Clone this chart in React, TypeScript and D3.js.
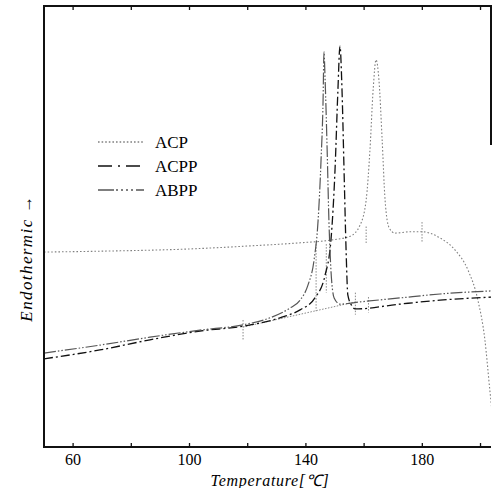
import React, { useEffect, useRef } from 'react';
import * as d3 from 'd3';

// temperature [℃] and endothermic signal (arbitrary units)
const acpTemp = [50, 69.2, 99.8, 120.8, 138, 148.3, 155.2, 158.6, 160.7, 162, 163.1, 164.1, 165.1, 166.2, 167.2, 168.6, 170.6, 175.8, 179.9, 186.1, 191.2, 195.7, 199.1, 201.5, 203.2, 203.9];
const acpHeat = [44.2, 44.4, 44.9, 45.6, 46.3, 46.9, 47.8, 50.3, 56, 67.3, 81, 87.8, 83.2, 69.6, 56, 49.7, 48.5, 48.8, 48.8, 47.4, 44.7, 40.1, 33.3, 24.3, 12.9, 8.4];

const acppTemp = [50, 69.2, 86.4, 103.6, 118.4, 131.1, 138, 143.1, 146.6, 148.6, 150, 151, 151.7, 152.4, 153.1, 153.8, 154.4, 155.8, 156.9, 172.3, 186.1, 204];
const acppHeat = [20, 22, 24.3, 26.3, 27.4, 29.3, 31.1, 33.8, 39, 46.9, 62.8, 81, 90.9, 81, 62.8, 44.7, 34.5, 32, 31.3, 32.4, 33.3, 34];

const abppTemp = [50, 69.2, 86.4, 103.6, 118.4, 127.7, 134.5, 138, 140.7, 142.8, 144.2, 145.2, 145.9, 146.2, 146.6, 147.3, 147.9, 148.6, 149.7, 151.7, 158.6, 172.3, 186.1, 204];
const abppHeat = [21.3, 23.1, 24.9, 26.5, 27.7, 29.3, 31.5, 33.3, 36.7, 42.4, 51.5, 65.1, 78.7, 89.6, 83.2, 67.3, 51.5, 40.1, 33.8, 32.4, 32.9, 33.8, 34.7, 35.4];

// construction lines: [t1, h1, t2, h2]
const guides = [
  [118.4, 27.2, 157, 32.9],
  [118.4, 28.8, 118.4, 24.3],
  [143.5, 46, 143.5, 30.8],
  [147, 46, 147, 35],
  [157, 35, 157, 30],
  [161.5, 34, 161.5, 30.5],
  [160.7, 50, 160.7, 46],
  [179.9, 51, 179.9, 46.5],
];

const legendNames = ['ACP', 'ACPP', 'ABPP'];
const xTicks = [60, 80, 100, 120, 140, 160, 180, 200];
const xLabels = [60, 100, 140, 180];

export default function App() {
  const ref = useRef(null);

  function draw() {
    const svg = d3.select(ref.current);
    svg.selectAll('*').remove();
    const left = 44, right = 491, top = 6, bottom = 447;
    const font = 'Liberation Serif, Times New Roman, serif';

    const x = d3.scaleLinear().domain([50, 203.6]).range([left, right]);
    const y = d3.scaleLinear().domain([0, 100]).range([bottom, top]);

    const styles = [
      { color: '#808080', dash: '1.6,2', width: 1.1 },
      { color: '#111', dash: '9,3,2,3', width: 1.3 },
      { color: '#555', dash: '12,2,1.5,2,1.5,2', width: 1.2 },
    ];
    const series = [
      { t: acpTemp, h: acpHeat },
      { t: acppTemp, h: acppHeat },
      { t: abppTemp, h: abppHeat },
    ];

    const line = d3.line().x(d => x(d[0])).y(d => y(d[1])).curve(d3.curveMonotoneX);

    // guide lines
    svg.append('g')
      .selectAll('line')
      .data(guides)
      .enter()
      .append('line')
      .attr('x1', d => x(d[0])).attr('y1', d => y(d[1]))
      .attr('x2', d => x(d[2])).attr('y2', d => y(d[3]))
      .attr('stroke', '#888')
      .attr('stroke-width', 1)
      .attr('stroke-dasharray', '1.5,1.5');

    const clip = svg.append('clipPath').attr('id', 'plot-clip');
    clip.append('rect').attr('x', left).attr('y', top).attr('width', right - left).attr('height', bottom - top);

    svg.append('g')
      .attr('clip-path', 'url(#plot-clip)')
      .selectAll('path')
      .data(series)
      .enter()
      .append('path')
      .attr('d', s => line(s.t.map((t, i) => [t, s.h[i]])))
      .attr('fill', 'none')
      .attr('stroke', (s, i) => styles[i].color)
      .attr('stroke-width', (s, i) => styles[i].width)
      .attr('stroke-dasharray', (s, i) => styles[i].dash);

    // frame
    const frame = svg.append('g').attr('stroke', '#111').attr('stroke-width', 2).attr('fill', 'none');
    frame.append('line').attr('x1', left).attr('y1', top).attr('x2', left).attr('y2', bottom);
    frame.append('line').attr('x1', left - 1).attr('y1', bottom).attr('x2', right).attr('y2', bottom);
    frame.append('line').attr('x1', left - 1).attr('y1', top).attr('x2', right).attr('y2', top);
    frame.append('line').attr('x1', right).attr('y1', top - 1).attr('x2', right).attr('y2', 145);

    // ticks pointing inward, bottom and top
    const tk = svg.append('g').attr('stroke', '#111').attr('stroke-width', 1.3);
    tk.selectAll('.b').data(xTicks).enter().append('line')
      .attr('x1', d => x(d)).attr('x2', d => x(d))
      .attr('y1', bottom).attr('y2', bottom - 4);
    tk.selectAll('.t').data(xTicks).enter().append('line')
      .attr('x1', d => x(d)).attr('x2', d => x(d))
      .attr('y1', top).attr('y2', top + 4);

    svg.append('g')
      .selectAll('text')
      .data(xLabels)
      .enter()
      .append('text')
      .attr('x', d => x(d))
      .attr('y', 465)
      .attr('text-anchor', 'middle')
      .attr('font-family', font)
      .attr('font-size', 16)
      .attr('fill', '#000')
      .text(d => d);

    svg.append('text')
      .attr('x', 270)
      .attr('y', 486)
      .attr('text-anchor', 'middle')
      .attr('font-family', font)
      .attr('font-style', 'italic')
      .attr('font-size', 16)
      .attr('letter-spacing', 0.7)
      .attr('fill', '#000')
      .text('Temperature[℃]');

    svg.append('text')
      .attr('transform', 'translate(32,258) rotate(-90)')
      .attr('text-anchor', 'middle')
      .attr('font-family', font)
      .attr('font-style', 'italic')
      .attr('font-size', 17)
      .attr('letter-spacing', 1.4)
      .attr('fill', '#000')
      .text('Endothermic  →');

    // legend
    const lg = svg.append('g')
      .selectAll('g')
      .data(legendNames)
      .enter()
      .append('g')
      .attr('transform', (d, i) => 'translate(98,' + (142 + i * 24) + ')');
    lg.append('line')
      .attr('x1', 0).attr('x2', 46).attr('y1', 0).attr('y2', 0)
      .attr('stroke', (d, i) => styles[i].color)
      .attr('stroke-width', (d, i) => styles[i].width + 0.3)
      .attr('stroke-dasharray', (d, i) => i === 0 ? '1.6,2' : i === 1 ? '14,6,2,6,14' : '16,2,2,3,2,3,2,3,2,3,10');
    lg.append('text')
      .attr('x', 57)
      .attr('y', 6)
      .attr('font-family', font)
      .attr('font-size', 17)
      .attr('fill', '#000')
      .text(d => d);
  }

  useEffect(() => {
    draw();
  }, []);

  return (
    <svg ref={ref} width={492} height={488} style={{ position: 'absolute', left: 0, top: 0, background: '#fff' }} />
  );
}
